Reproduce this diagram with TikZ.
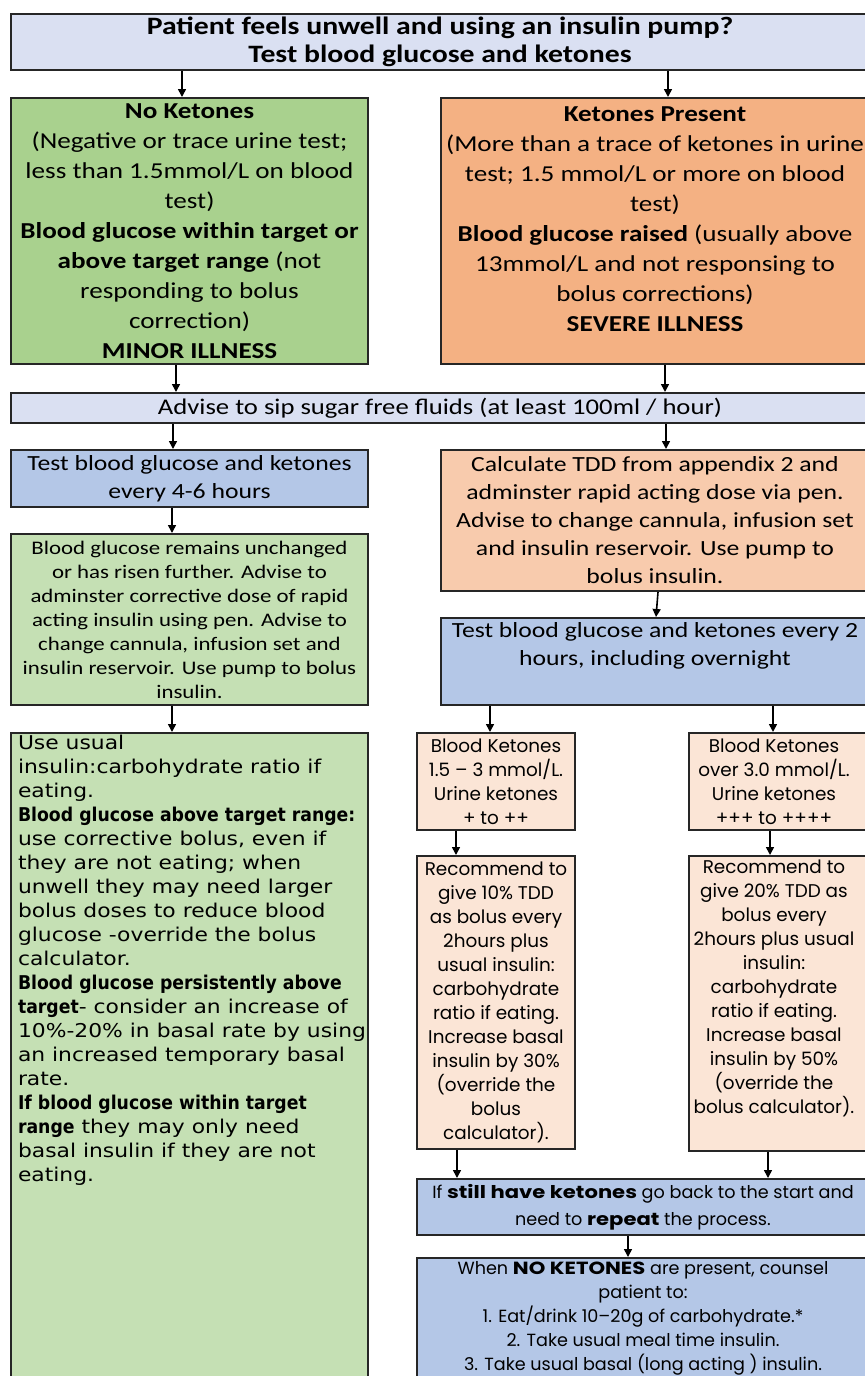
\documentclass[tikz,border=0pt]{standalone}
\usepackage{fontspec}
\setmainfont[FakeStretch=1.19]{Carlito}
\newfontfamily\gothicfont[BoldFeatures={FakeStretch=1.2}]{Poppins}
\newfontfamily\plainfont[UprightFeatures={FakeStretch=1.15}, BoldFeatures={FakeStretch=0.91}]{DejaVu Sans}
\usepackage{tikz}
\usetikzlibrary{arrows.meta}
\tikzset{>={Triangle[length=4pt,width=4pt]}}
\definecolor{lavender}{HTML}{DAE0F2}
\definecolor{leaf}{HTML}{A9D18E}
\definecolor{apricot}{HTML}{F4B183}
\definecolor{sky}{HTML}{B4C7E7}
\definecolor{salmon}{HTML}{F8CBAD}
\definecolor{mint}{HTML}{C5E0B4}
\definecolor{cream}{HTML}{FBE5D6}
\newcommand{\boxtext}[4][c]{\parbox[c][#3][#1]{#2}{\centering #4}}

\begin{document}
\begin{tikzpicture}[x=0.5pt, y=-0.5pt,
		cell/.style={draw=black!85, line width=1pt, inner sep=0pt, anchor=north west},
		head/.style={cell, fill=lavender},
		minor/.style={cell, fill=leaf},
		severe/.style={cell, fill=apricot},
		test/.style={cell, fill=sky},
		dose/.style={cell, fill=salmon},
		mild/.style={cell, fill=mint},
		peach/.style={cell, fill=cream},
		every edge/.append style={line width=0.8pt}]
		\useasboundingbox (0,0) rectangle (865,1376);
		\clip (0,0) rectangle (865,1376);
		\node[head] (1) at (10,13) {\boxtext{429pt}{28pt}{\bfseries\fontsize{12.5}{14}\selectfont Patient feels unwell and using an insulin pump?\\Test blood glucose and ketones}};
		\node[minor] (2) at (10,97) {\boxtext{178.5pt}{133pt}{\fontsize{11.4}{15}\selectfont \textbf{No Ketones}\\(Negative or trace urine test;\\less than 1.5mmol/L on blood\\test)\\\textbf{Blood glucose within target or}\\\textbf{above target range} (not\\responding to bolus\\correction)\\\textbf{MINOR ILLNESS}}};
		\node[severe] (3) at (440,97) {\boxtext[t]{214pt}{133pt}{\vspace*{4.5pt}\fontsize{11.4}{15}\selectfont \textbf{Ketones Present}\\(More than a trace of ketones in urine\\test; 1.5 mmol/L or more on blood\\test)\\\textbf{Blood glucose raised} (usually above\\13mmol/L and not responsing to\\bolus corrections)\\\textbf{SEVERE ILLNESS}}};
		\node[head] (4) at (10,392) {\boxtext{429pt}{15pt}{\fontsize{11.2}{13}\selectfont Advise to sip sugar free fluids (at least 100ml / hour)}};
		\node[test] (5) at (10,449) {\boxtext{178.5pt}{28.5pt}{\fontsize{10.8}{14}\selectfont Test blood glucose and ketones\\every 4-6 hours}};
		\node[dose] (6) at (440,449) {\boxtext{214pt}{70.5pt}{\fontsize{10.8}{14}\selectfont Calculate TDD from appendix 2 and\\adminster rapid acting dose via pen.\\Advise to change cannula, infusion set\\and insulin reservoir. Use pump to\\bolus insulin.}};
		\node[mild] (7) at (10,533) {\boxtext{178.5pt}{85.5pt}{\fontsize{9.6}{12}\selectfont Blood glucose remains unchanged\\or has risen further. Advise to\\adminster corrective dose of rapid\\acting insulin using pen. Advise to\\change cannula, infusion set and\\insulin reservoir. Use pump to bolus\\insulin.}};
		\node[test] (8) at (440,617) {\boxtext[t]{214pt}{43.5pt}{\vspace*{2pt}\fontsize{10.8}{14}\selectfont Test blood glucose and ketones every 2\\hours, including overnight}};
		\node[mild] (9) at (10,732) {\parbox[c][329pt][t]{178.5pt}{\vspace*{1pt}\plainfont\fontsize{9.5}{12}\selectfont\raggedright\leftskip=3.5pt Use usual\\insulin:carbohydrate ratio if\\eating.\\\textbf{Blood glucose above target range:}\\use corrective bolus, even if\\they are not eating; when\\unwell they may need larger\\bolus doses to reduce blood\\glucose -override the bolus\\calculator.\\\textbf{Blood glucose persistently above}\\\textbf{target}- consider an increase of\\10\%-20\% in basal rate by using\\an increased temporary basal\\rate.\\\textbf{If blood glucose within target}\\\textbf{range} they may only need\\basal insulin if they are not\\eating.}};
		\node[peach] (10) at (416,732) {\boxtext{79pt}{48.5pt}{\gothicfont\fontsize{9.2}{12}\selectfont Blood Ketones\\1.5 – 3 mmol/L.\\Urine ketones\\+ to ++}};
		\node[peach] (11) at (688,732) {\boxtext{90pt}{48.5pt}{\rightskip=5pt plus 1fil\gothicfont\fontsize{9.2}{12}\selectfont Blood Ketones\\over 3.0 mmol/L.\\Urine ketones\\+++ to ++++}};
		\node[peach] (12) at (416,855) {\boxtext{79pt}{146.5pt}{\gothicfont\fontsize{9.2}{12}\selectfont Recommend to\\give 10\% TDD\\as bolus every\\2hours plus\\usual insulin:\\carbohydrate\\ratio if eating.\\Increase basal\\insulin by 30\%\\(override the\\bolus\\calculator).}};
		\node[peach] (13) at (688,855) {\boxtext[t]{90pt}{147.5pt}{\vspace*{2pt}\rightskip=5pt plus 1fil\gothicfont\fontsize{9.2}{12}\selectfont Recommend to\\give 20\% TDD as\\bolus every\\2hours plus usual\\insulin:\\carbohydrate\\ratio if eating.\\Increase basal\\insulin by 50\%\\(override the\\bolus calculator).}};
		\node[test] (14) at (416,1178) {\boxtext{226pt}{28pt}{\gothicfont\fontsize{8.8}{13.5}\selectfont If \textbf{still have ketones} go back to the start and\\need to \textbf{repeat} the process.}};
		\node[test] (15) at (416,1257) {\boxtext[t]{226pt}{66.5pt}{\vspace*{1.5pt}\gothicfont\fontsize{8.8}{12}\selectfont When \textbf{NO KETONES} are present, counsel\\patient to:\\1. Eat/drink 10–20g of carbohydrate.*\\2. Take usual meal time insulin.\\3. Take usual basal (long acting ) insulin.}};
		
		\path (182,0 |- 1.south) edge[->] (182,0 |- 2.north);
		\path (668,0 |- 1.south) edge[->] (668,0 |- 3.north);
		\path (176,0 |- 2.south) edge[->] (176,0 |- 4.north);
		\path (665,0 |- 3.south) edge[->] (665,0 |- 4.north);
		\path (173,0 |- 4.south) edge[->] (173,0 |- 5.north);
		\path (666,0 |- 4.south) edge[->] (666,0 |- 6.north);
		\path (172,0 |- 5.south) edge[->] (172,0 |- 7.north);
		\path (658,0 |- 6.south) edge[->] (656,0 |- 8.north);
		\path (172,0 |- 7.south) edge[->] (172,0 |- 9.north);
		\path (490,0 |- 8.south) edge[->] (490,0 |- 10.north);
		\path (773,0 |- 8.south) edge[->] (773,0 |- 11.north);
		\path (456,0 |- 10.south) edge[->] (456,0 |- 12.north);
		\path (770,0 |- 11.south) edge[->] (770,0 |- 13.north);
		\path (457,0 |- 12.south) edge[->] (457,0 |- 14.north);
		\path (768,0 |- 13.south) edge[->] (768,0 |- 14.north);
		\path (628,0 |- 14.south) edge[->] (628,0 |- 15.north);
		
	\end{tikzpicture}
\end{document}
